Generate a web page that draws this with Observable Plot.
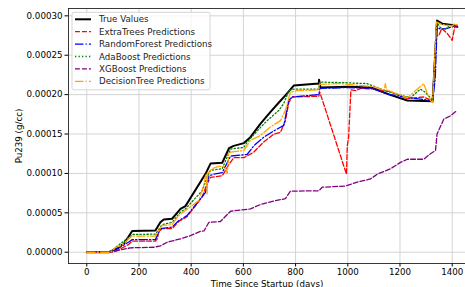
<!DOCTYPE html>
<html><head><meta charset="utf-8">
<script src="https://cdn.jsdelivr.net/npm/d3@7"></script>
<script src="https://cdn.jsdelivr.net/npm/@observablehq/plot@0.6"></script>
<style>
html,body{margin:0;padding:0;background:#fff;}
#chart{position:relative;width:465px;height:287px;overflow:hidden;}
</style>
</head><body><div id="chart"></div>
<script>
// ---- data (days, Pu239 g/cc) ----
const trueDays = [0, 85, 91, 123, 136, 141, 174, 263, 282, 295, 327, 359, 378, 455, 474, 519, 545, 563, 602, 627, 665, 704, 736, 761, 793, 889, 890, 895, 1000, 1090, 1160, 1228, 1325, 1342, 1362, 1406, 1420];
const trueVals = [0, 0, 0.1e-5, 0.6e-5, 0.95e-5, 1.0e-5, 2.7e-5, 2.75e-5, 3.8e-5, 4.15e-5, 4.25e-5, 5.5e-5, 5.85e-5, 9.95e-5, 11.25e-5, 11.35e-5, 13.2e-5, 13.5e-5, 13.85e-5, 14.6e-5, 16.3e-5, 17.8e-5, 19.0e-5, 19.9e-5, 21.15e-5, 21.4e-5, 21.9e-5, 20.9e-5, 21.0e-5, 20.9e-5, 20.0e-5, 19.25e-5, 19.15e-5, 29.4e-5, 29.0e-5, 28.8e-5, 28.6e-5];

const etDays = [0, 90, 110, 161, 174, 263, 270, 276, 289, 327, 352, 384, 442, 461, 474, 519, 544, 563, 602, 640, 678, 717, 742, 761, 774, 787, 889, 893, 995, 998, 1003, 1012, 1030, 1050, 1100, 1160, 1228, 1290, 1325, 1338, 1349, 1360, 1380, 1400, 1410, 1420];
const etVals = [0, 0, 0.1e-5, 1.0e-5, 1.4e-5, 1.4e-5, 1.7e-5, 2.6e-5, 3.0e-5, 3.0e-5, 3.9e-5, 4.5e-5, 7.0e-5, 8.7e-5, 9.5e-5, 9.7e-5, 11.1e-5, 12.0e-5, 12.0e-5, 12.7e-5, 14.0e-5, 15.0e-5, 15.2e-5, 16.7e-5, 19.0e-5, 19.7e-5, 19.8e-5, 20.3e-5, 9.9e-5, 13.5e-5, 14.5e-5, 20.6e-5, 20.5e-5, 20.8e-5, 20.7e-5, 20.4e-5, 19.5e-5, 19.7e-5, 19.2e-5, 27.5e-5, 27.5e-5, 28.4e-5, 27.8e-5, 26.9e-5, 28.6e-5, 28.6e-5];

const rfDays = [0, 90, 110, 161, 174, 263, 282, 327, 352, 384, 455, 468, 487, 519, 551, 614, 640, 678, 717, 755, 774, 787, 889, 893, 1000, 1090, 1160, 1240, 1310, 1325, 1335, 1342, 1358, 1380, 1420];
const rfVals = [0, 0, 0.3e-5, 1.3e-5, 1.6e-5, 1.6e-5, 3.0e-5, 3.2e-5, 4.0e-5, 4.65e-5, 7.6e-5, 9.7e-5, 9.9e-5, 10.1e-5, 12.2e-5, 12.4e-5, 13.5e-5, 14.6e-5, 15.4e-5, 16.1e-5, 19.3e-5, 19.7e-5, 20.0e-5, 20.8e-5, 20.9e-5, 20.8e-5, 20.0e-5, 19.6e-5, 19.3e-5, 19.2e-5, 22.0e-5, 28.5e-5, 28.3e-5, 28.4e-5, 28.8e-5];

const adaDays = [0, 90, 110, 161, 174, 263, 289, 327, 359, 378, 442, 461, 474, 519, 551, 602, 614, 653, 691, 736, 755, 774, 793, 889, 892, 998, 1074, 1160, 1240, 1278, 1297, 1325, 1340, 1352, 1370, 1390, 1420];
const adaVals = [0, 0, 0.6e-5, 1.9e-5, 2.25e-5, 2.3e-5, 3.5e-5, 3.8e-5, 5.1e-5, 5.5e-5, 7.8e-5, 9.5e-5, 10.4e-5, 10.6e-5, 13.1e-5, 13.3e-5, 13.95e-5, 15.4e-5, 16.7e-5, 18.0e-5, 18.9e-5, 20.5e-5, 20.7e-5, 20.7e-5, 21.6e-5, 21.5e-5, 21.4e-5, 20.3e-5, 19.6e-5, 20.7e-5, 20.3e-5, 19.3e-5, 29.3e-5, 28.6e-5, 28.2e-5, 28.8e-5, 28.8e-5];

const xgbDays = [0, 90, 116, 167, 256, 282, 308, 359, 397, 436, 449, 468, 512, 551, 589, 627, 665, 717, 761, 780, 889, 902, 991, 1036, 1087, 1113, 1164, 1202, 1228, 1291, 1317, 1336, 1342, 1368, 1393, 1419];
const xgbVals = [0, 0, 0.2e-5, 0.56e-5, 0.63e-5, 0.8e-5, 1.27e-5, 1.7e-5, 2.1e-5, 2.66e-5, 2.7e-5, 3.8e-5, 3.9e-5, 5.2e-5, 5.35e-5, 5.5e-5, 6.05e-5, 6.5e-5, 6.8e-5, 7.75e-5, 7.8e-5, 8.25e-5, 8.4e-5, 8.9e-5, 9.3e-5, 9.9e-5, 10.6e-5, 11.4e-5, 11.8e-5, 11.8e-5, 12.5e-5, 12.9e-5, 15.0e-5, 16.9e-5, 17.3e-5, 18.0e-5];

const dtDays = [0, 91, 110, 136, 161, 174, 263, 276, 289, 327, 352, 378, 429, 448, 455, 459, 461, 463, 480, 506, 530, 538, 544, 551, 602, 627, 665, 704, 742, 761, 780, 806, 889, 891, 972, 1100, 1140, 1144, 1148, 1228, 1291, 1304, 1318, 1325, 1340, 1360, 1400, 1410, 1425];
const dtVals = [0, 0, 0.6e-5, 0.9e-5, 1.7e-5, 2.05e-5, 2.05e-5, 2.75e-5, 3.4e-5, 3.5e-5, 4.65e-5, 5.3e-5, 6.55e-5, 8.5e-5, 9.7e-5, 9.9e-5, 7.4e-5, 10.0e-5, 10.6e-5, 10.9e-5, 10.9e-5, 10.0e-5, 12.5e-5, 12.7e-5, 12.9e-5, 14.2e-5, 14.8e-5, 15.9e-5, 16.7e-5, 18.0e-5, 20.3e-5, 20.5e-5, 20.6e-5, 21.3e-5, 21.4e-5, 21.0e-5, 20.6e-5, 21.4e-5, 20.6e-5, 19.6e-5, 21.4e-5, 20.2e-5, 19.2e-5, 19.0e-5, 29.2e-5, 28.9e-5, 28.7e-5, 29.0e-5, 28.7e-5];

const seriesNames = ["True Values", "ExtraTrees Predictions", "RandomForest Predictions", "AdaBoost Predictions", "XGBoost Predictions", "DecisionTree Predictions"];
const seriesColors = ["#000000", "#ff0000", "#0000ff", "#008000", "#800080", "#ffa500"];
const xTicks = [0, 200, 400, 600, 800, 1000, 1200, 1400];
const yTicks = [0, 0.00005, 0.0001, 0.00015, 0.0002, 0.00025, 0.0003];
const xLabel = "Time Since Startup (days)";
const yLabel = "Pu239 (g/cc)";

// ---- styles ----
const widths = [2, 1.3, 1.3, 1.3, 1.3, 1.3];
const dashes = [null, "4.9,2.1", "8.4,2.1,1.3,2.1", "1.3,2.2", "4.9,2.1", "8.4,2.1,1.3,2.1"];

const allDays = [trueDays, etDays, rfDays, adaDays, xgbDays, dtDays];
const allVals = [trueVals, etVals, rfVals, adaVals, xgbVals, dtVals];
const series = seriesNames.map((name, i) => allDays[i].map((d, j) => ({day: d, val: allVals[i][j]})));

const W = 465, H = 287;
const mL = 68, mR = 0, mT = 8, mB = 24;
const font = "DejaVu Sans, sans-serif";

const lineMarks = series.map((data, i) => Plot.line(data, {
  x: "day", y: "val", stroke: seriesColors[i], strokeWidth: widths[i],
  strokeDasharray: dashes[i] || undefined, curve: "linear", clip: true
}));

const plot = Plot.plot({
  width: W, height: H,
  marginLeft: mL, marginRight: mR, marginTop: mT, marginBottom: mB,
  style: {fontFamily: font, fontSize: "8.7px", background: "#fff", color: "#000"},
  x: {domain: [-70, 1451], ticks: xTicks, tickSize: 3.5, tickPadding: 2, tickFormat: d => String(d), label: null},
  y: {domain: [-0.0000143, 0.0003093], ticks: yTicks, tickSize: 3.5, tickPadding: 2.5, tickFormat: d => d.toFixed(5), label: null},
  marks: [
    Plot.ruleX(xTicks, {stroke: "#cfcfcf", strokeWidth: 0.9}),
    Plot.ruleY(yTicks, {stroke: "#cfcfcf", strokeWidth: 0.9}),
    ...lineMarks,
    Plot.axisX({ticks: xTicks, tickSize: 3.5, tickPadding: 2, tickFormat: d => String(d), label: null, fontSize: 8.7}),
    Plot.axisY({ticks: yTicks, tickSize: 3.5, tickPadding: 2.5, tickFormat: d => d.toFixed(5), label: null, fontSize: 8.7}),
    Plot.axisX({anchor: "bottom", ticks: [], label: xLabel, labelAnchor: "center", labelArrow: "none", labelOffset: 23}),
    Plot.axisY({anchor: "left", ticks: [], label: yLabel, labelAnchor: "center", labelArrow: "none", labelOffset: 53}),
    Plot.frame({anchor: "top", stroke: "#222", strokeWidth: 0.9}),
    Plot.frame({anchor: "bottom", stroke: "#222", strokeWidth: 0.9}),
    Plot.frame({anchor: "left", stroke: "#222", strokeWidth: 0.9})
  ]
});
document.getElementById("chart").appendChild(plot);

// ---- legend (inside the axes, upper-left) ----
const svg = d3.select(plot);
const lg = svg.append("g").attr("font-family", font).attr("font-size", "8.7px").attr("text-anchor", "start");
const lx = 72, ly = 12.3, lw = 138, rowH = 12.4;
lg.append("rect").attr("x", lx).attr("y", ly).attr("width", lw).attr("height", 77.5)
  .attr("rx", 2).attr("fill", "#fff").attr("fill-opacity", 0.8).attr("stroke", "#d0d0d0").attr("stroke-width", 0.9);
seriesNames.forEach((name, i) => {
  const cy = ly + 7 + i * rowH;
  lg.append("line").attr("x1", lx + 3).attr("x2", lx + 19).attr("y1", cy).attr("y2", cy)
    .attr("stroke", seriesColors[i]).attr("stroke-width", widths[i])
    .attr("stroke-dasharray", dashes[i] || null);
  lg.append("text").attr("x", lx + 27).attr("y", cy).attr("dy", "0.35em")
    .attr("text-anchor", "start").attr("fill", "#222").text(name);
});
</script></body></html>
